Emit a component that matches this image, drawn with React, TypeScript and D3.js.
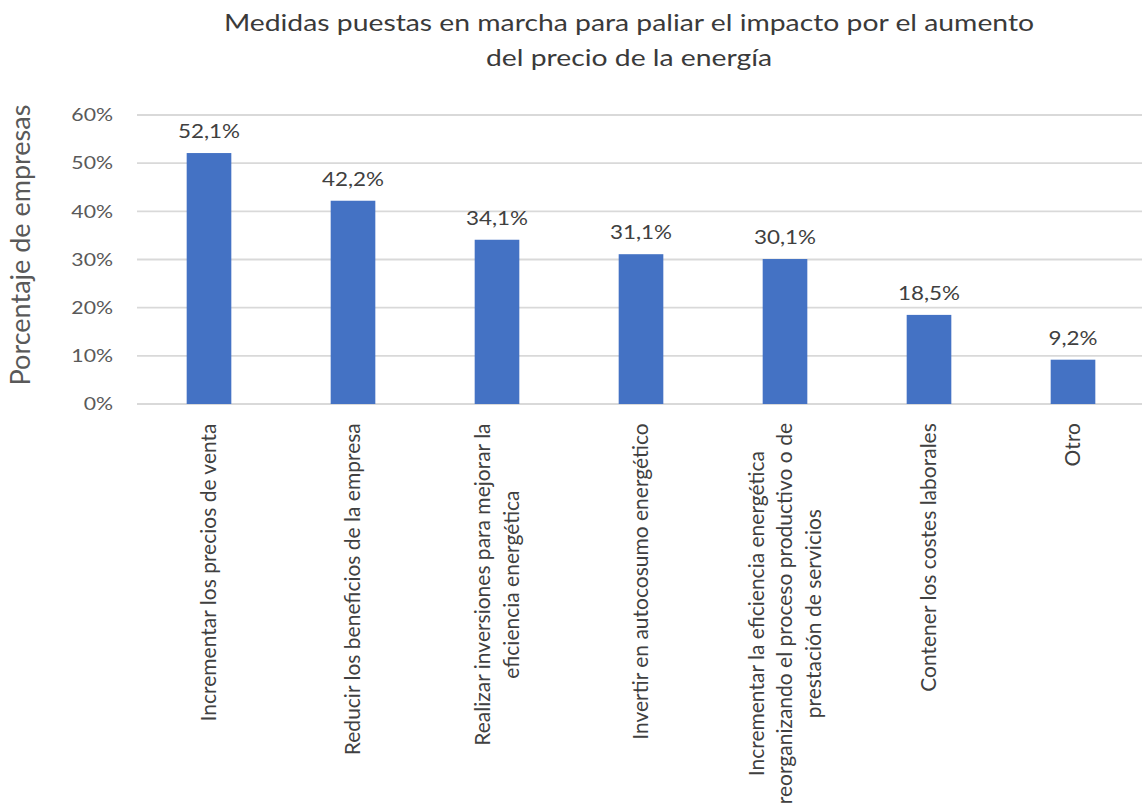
import React from "react";
import * as d3 from "d3";

const titleLines = [
  "Medidas puestas en marcha para paliar el impacto por el aumento",
  "del precio de la energía",
];
const yAxisTitle = "Porcentaje de empresas";
const categories = [
  "Incrementar los precios de venta",
  "Reducir los beneficios de la empresa",
  "Realizar inversiones para mejorar la\neficiencia energética",
  "Invertir en autocosumo energético",
  "Incrementar la eficiencia energética\nreorganizando el proceso productivo o de\nprestación de servicios",
  "Contener los costes laborales",
  "Otro",
];
const values = [52.1, 42.2, 34.1, 31.1, 30.1, 18.5, 9.2];
const yTicks = [0, 10, 20, 30, 40, 50, 60];

const W = 1142;
const H = 805;
const FONT = "Lato, 'Open Sans', sans-serif";
const SX = 1.18; // horizontal stretch of horizontal text

const locale = d3.formatLocale({
  decimal: ",",
  thousands: ".",
  grouping: [3],
  currency: ["", " €"],
});
const fmtVal = (v: number) => locale.format(".1f")(v) + "%";
const fmtTick = (v: number) => locale.format("d")(v) + "%";

function measure(text: string, font: string): number {
  const c = document.createElement("canvas");
  const ctx = c.getContext("2d");
  if (!ctx) return text.length * 8;
  ctx.font = font;
  return ctx.measureText(text).width;
}

export default function App() {
  const margin = { left: 137, right: W + 3, top: 115, bottom: 404 };
  const x = d3
    .scaleBand<string>()
    .domain(categories)
    .range([margin.left, margin.right])
    .paddingInner(0.69)
    .paddingOuter(0.345);
  const y = d3.scaleLinear().domain([0, 60]).range([margin.bottom, margin.top]);

  const catFontSize = 21;
  const catLineH = 28.5;
  const catTop = 423;

  return (
    <svg
      width={W}
      height={H}
      style={{ position: "absolute", left: 0, top: 0, background: "#fff" }}
      fontFamily={FONT}
    >
      <rect x={0} y={0} width={W} height={H} fill="#fff" />
      {/* title */}
      {titleLines.map((t, i) => (
        <text
          key={i}
          transform={`translate(629, ${31 + i * 35}) scale(${SX},1)`}
          textAnchor="middle"
          fontSize={24}
          fill="#3a3a3a"
        >
          {t}
        </text>
      ))}
      {/* y axis title */}
      <text
        transform={`translate(30, 245) rotate(-90)`}
        textAnchor="middle"
        fontSize={27}
        fill="#595959"
      >
        {yAxisTitle}
      </text>
      {/* gridlines */}
      {yTicks.map((t) => (
        <line
          key={t}
          x1={margin.left}
          x2={W}
          y1={y(t)}
          y2={y(t)}
          stroke="#d9d9d9"
          strokeWidth={1.8}
        />
      ))}
      {/* tick labels */}
      {yTicks.map((t) => (
        <text
          key={"t" + t}
          transform={`translate(113, ${y(t)}) scale(${SX},1)`}
          dy="0.35em"
          textAnchor="end"
          fontSize={18}
          fill="#595959"
        >
          {fmtTick(t)}
        </text>
      ))}
      {/* bars */}
      {categories.map((c, i) => (
        <rect
          key={c}
          x={x(c)}
          y={y(values[i])}
          width={x.bandwidth()}
          height={y(0) - y(values[i])}
          fill="#4472C4"
        />
      ))}
      {/* data labels */}
      {categories.map((c, i) => (
        <text
          key={"v" + c}
          transform={`translate(${(x(c) as number) + x.bandwidth() / 2}, ${
            y(values[i]) - 15
          }) scale(${SX},1)`}
          textAnchor="middle"
          fontSize={19}
          fill="#404040"
        >
          {fmtVal(values[i])}
        </text>
      ))}
      {/* category labels */}
      {categories.map((c) => {
        const lines = c.split("\n");
        const maxLen = d3.max(lines, (l) =>
          measure(l, `${catFontSize}px Lato`)
        ) as number;
        const cx = (x(c) as number) + x.bandwidth() / 2;
        const cy = catTop + maxLen / 2;
        return (
          <g key={"c" + c} transform={`translate(${cx}, ${cy}) rotate(-90)`}>
            {lines.map((l, j) => (
              <text
                key={j}
                x={0}
                y={(j - (lines.length - 1) / 2) * catLineH}
                dy="0.35em"
                textAnchor="middle"
                fontSize={catFontSize}
                fill="#404040"
              >
                {l}
              </text>
            ))}
          </g>
        );
      })}
    </svg>
  );
}
